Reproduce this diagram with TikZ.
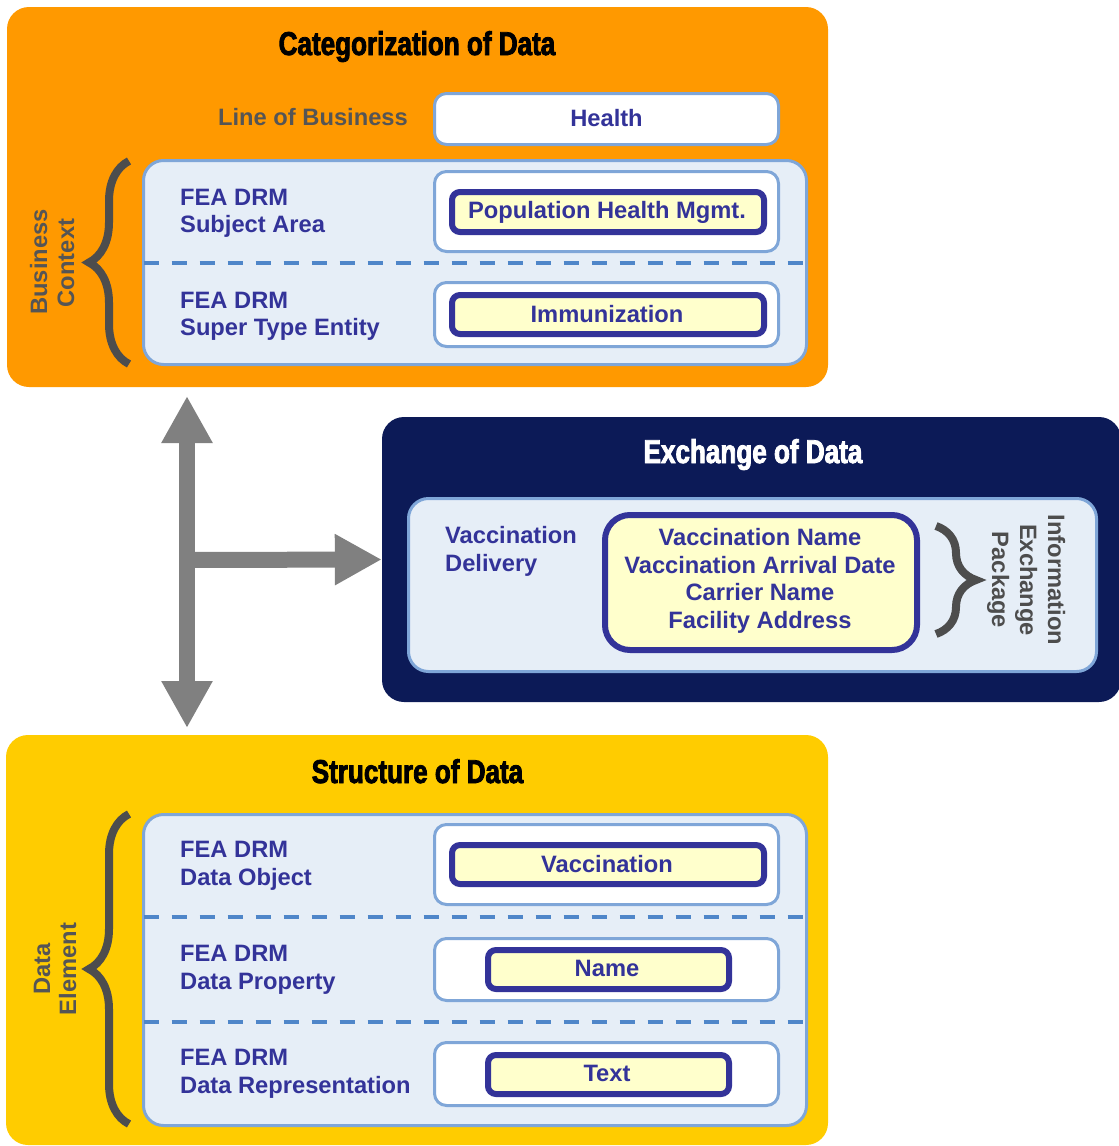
\documentclass[tikz,border=0pt]{standalone}
\usepackage{fontspec}
\setmainfont{Liberation Sans}
\newfontfamily\ttlfont{Liberation Sans}[FakeStretch=0.79, BoldFeatures={FakeBold=2.5}]
\usetikzlibrary{arrows.meta,decorations.pathreplacing}
\definecolor{orangebg}{HTML}{FF9900}
\definecolor{yellowbg}{HTML}{FFCC00}
\definecolor{navybg}{HTML}{0C1A57}
\definecolor{panelfill}{HTML}{E6EEF7}
\definecolor{panelline}{HTML}{7FA6D8}
\definecolor{dashcol}{HTML}{4F86C9}
\definecolor{bluetxt}{HTML}{333399}
\definecolor{paleyel}{HTML}{FFFFCC}
\definecolor{arrowgray}{HTML}{808080}
\definecolor{bracegray}{HTML}{4D4D4D}
\definecolor{graytxt}{HTML}{555555}
\newcommand\mybody{\fontsize{23.7}{28}\selectfont\bfseries}
\newcommand\mytitle{\ttlfont\bfseries\fontsize{33}{38}\selectfont}
\begin{document}
\begin{tikzpicture}[x=1pt,y=-1pt,
  bigbox/.style={rectangle, rounded corners=22pt, inner sep=0pt, draw=none},
  panel/.style={rectangle, rounded corners=20pt, inner sep=0pt, fill=panelfill, draw=panelline, line width=3pt},
  whitebox/.style={rectangle, rounded corners=12pt, inner sep=0pt, fill=white, draw=panelline, line width=3pt},
  yelbox/.style={rectangle, rounded corners=8pt, inner sep=0pt, fill=paleyel, draw=bluetxt, line width=6pt},
  dashline/.style={draw=dashcol, line width=4pt, dash pattern=on 15pt off 13pt},
  lbl/.style={font=\mybody, text=bluetxt, anchor=base west, inner sep=0pt},
  ctr/.style={font=\mybody, text=bluetxt, anchor=base, inner sep=0pt},
  gtxt/.style={font=\mybody, text=graytxt, inner sep=0pt},
  ttl/.style={font=\mytitle, anchor=base, inner sep=0pt},
  bracestyle/.style={draw=bracegray, line width=8pt, decorate, decoration={brace, amplitude=40pt}},
  bigarrow/.style={draw=arrowgray, line width=16pt}
]
\useasboundingbox (0,0) rectangle (1119,1146);

% ---------- Categorization of Data ----------
\node[bigbox, fill=orangebg, minimum width=821pt, minimum height=380pt] (cat) at (417.5,197) {};
\node[ttl, text=black] (cattitle) at (417,55) {Categorization of Data};
\node[gtxt, anchor=base east] (lob) at (408,125) {Line of Business};
\node[whitebox, minimum width=344pt, minimum height=51pt] (health) at (606.5,119) {};
\node[ctr] (thealth) at (606.5,126) {Health};

\node[panel, minimum width=663pt, minimum height=204pt] (panel1) at (475,262.5) {};
\draw[dashline] (143.5,263) -- (806.5,263);

\node[whitebox, minimum width=344pt, minimum height=80pt] (wb1) at (606.5,211.5) {};
\node[yelbox, minimum width=312pt, minimum height=40pt] (yb1) at (608,212) {};
\node[ctr] (tphm) at (607,218) {Population Health Mgmt.};
\node[lbl] (sa1) at (180,205) {FEA DRM};
\node[lbl] (sa2) at (180,232.5) {Subject Area};

\node[whitebox, minimum width=344pt, minimum height=64pt] (wb2) at (606.5,314.5) {};
\node[yelbox, minimum width=312pt, minimum height=39pt] (yb2) at (608,314.5) {};
\node[ctr] (timm) at (607,322) {Immunization};
\node[lbl] (st1) at (180,308) {FEA DRM};
\node[lbl] (st2) at (180,335.5) {Super Type Entity};

\draw[bracestyle] (129,364) -- (129,161);
\node[gtxt, rotate=90, anchor=base] (bc1) at (47,262) {Business};
\node[gtxt, rotate=90, anchor=base] (bc2) at (74,263) {Context};

% ---------- Exchange of Data ----------
\node[bigbox, fill=navybg, minimum width=739pt, minimum height=285pt] (exch) at (751.5,559.5) {};
\node[ttl, text=white] (exchtitle) at (753,463) {Exchange of Data};
\node[panel, minimum width=688pt, minimum height=173pt] (panel2) at (752.5,585) {};
\node[lbl] (vd1) at (445,543) {Vaccination};
\node[lbl] (vd2) at (445,571) {Delivery};
\node[yelbox, rounded corners=25pt, minimum width=312pt, minimum height=135pt] (yex) at (761,582.5) {};
\node[ctr] (ve1) at (760,545) {Vaccination Name};
\node[ctr] (ve2) at (760,573) {Vaccination Arrival Date};
\node[ctr] (ve3) at (760,600) {Carrier Name};
\node[ctr] (ve4) at (760,628) {Facility Address};
\draw[bracestyle] (936,526) -- (936,634);
\node[gtxt, text=bracegray, rotate=-90, anchor=base] (iep1) at (1048,580) {Information};
\node[gtxt, text=bracegray, rotate=-90, anchor=base] (iep2) at (1020,580) {Exchange};
\node[gtxt, text=bracegray, rotate=-90, anchor=base] (iep3) at (992,580) {Package};

% ---------- Structure of Data ----------
\node[bigbox, fill=yellowbg, minimum width=822pt, minimum height=410pt] (struct) at (417,940) {};
\node[ttl, text=black] (structtitle) at (417.5,783) {Structure of Data};
\node[panel, minimum width=663pt, minimum height=311pt] (panel3) at (475,970) {};
\draw[dashline] (143.5,917) -- (806.5,917);
\draw[dashline] (143.5,1022) -- (806.5,1022);

\node[whitebox, minimum width=344pt, minimum height=80pt] (wd1) at (606.5,864.5) {};
\node[yelbox, minimum width=312pt, minimum height=39pt] (yd1) at (608,864.5) {};
\node[ctr] (tvac) at (607,872) {Vaccination};
\node[lbl] (do1) at (180,857) {FEA DRM};
\node[lbl] (do2) at (180,885) {Data Object};

\node[whitebox, minimum width=344pt, minimum height=62pt] (wd2) at (606.5,969.5) {};
\node[yelbox, minimum width=241pt, minimum height=39pt] (yd2) at (608.5,969.5) {};
\node[ctr] (tname) at (607,976) {Name};
\node[lbl] (dp1) at (180,961) {FEA DRM};
\node[lbl] (dp2) at (180,989) {Data Property};

\node[whitebox, minimum width=344pt, minimum height=63pt] (wd3) at (606.5,1074) {};
\node[yelbox, minimum width=241pt, minimum height=39pt] (yd3) at (608.5,1074.5) {};
\node[ctr] (ttext) at (607,1081) {Text};
\node[lbl] (dr1) at (180,1065) {FEA DRM};
\node[lbl] (dr2) at (180,1093) {Data Representation};

\draw[bracestyle] (129,1124) -- (129,814);
\node[gtxt, rotate=90, anchor=base] (de1) at (50,969) {Data};
\node[gtxt, rotate=90, anchor=base] (de2) at (76,969) {Element};

% ---------- Arrows ----------
\coordinate (vt) at (187,396);
\coordinate (vb) at (187,728);
\coordinate (vj) at (187,560);
\draw[bigarrow, {Triangle[width=48pt,length=47pt]}-{Triangle[width=48pt,length=47pt]}] (vt) -- (vb);
\draw[bigarrow, -{Triangle[width=48pt,length=47pt]}] (vj) -- (exch.west);
\end{tikzpicture}
\end{document}
